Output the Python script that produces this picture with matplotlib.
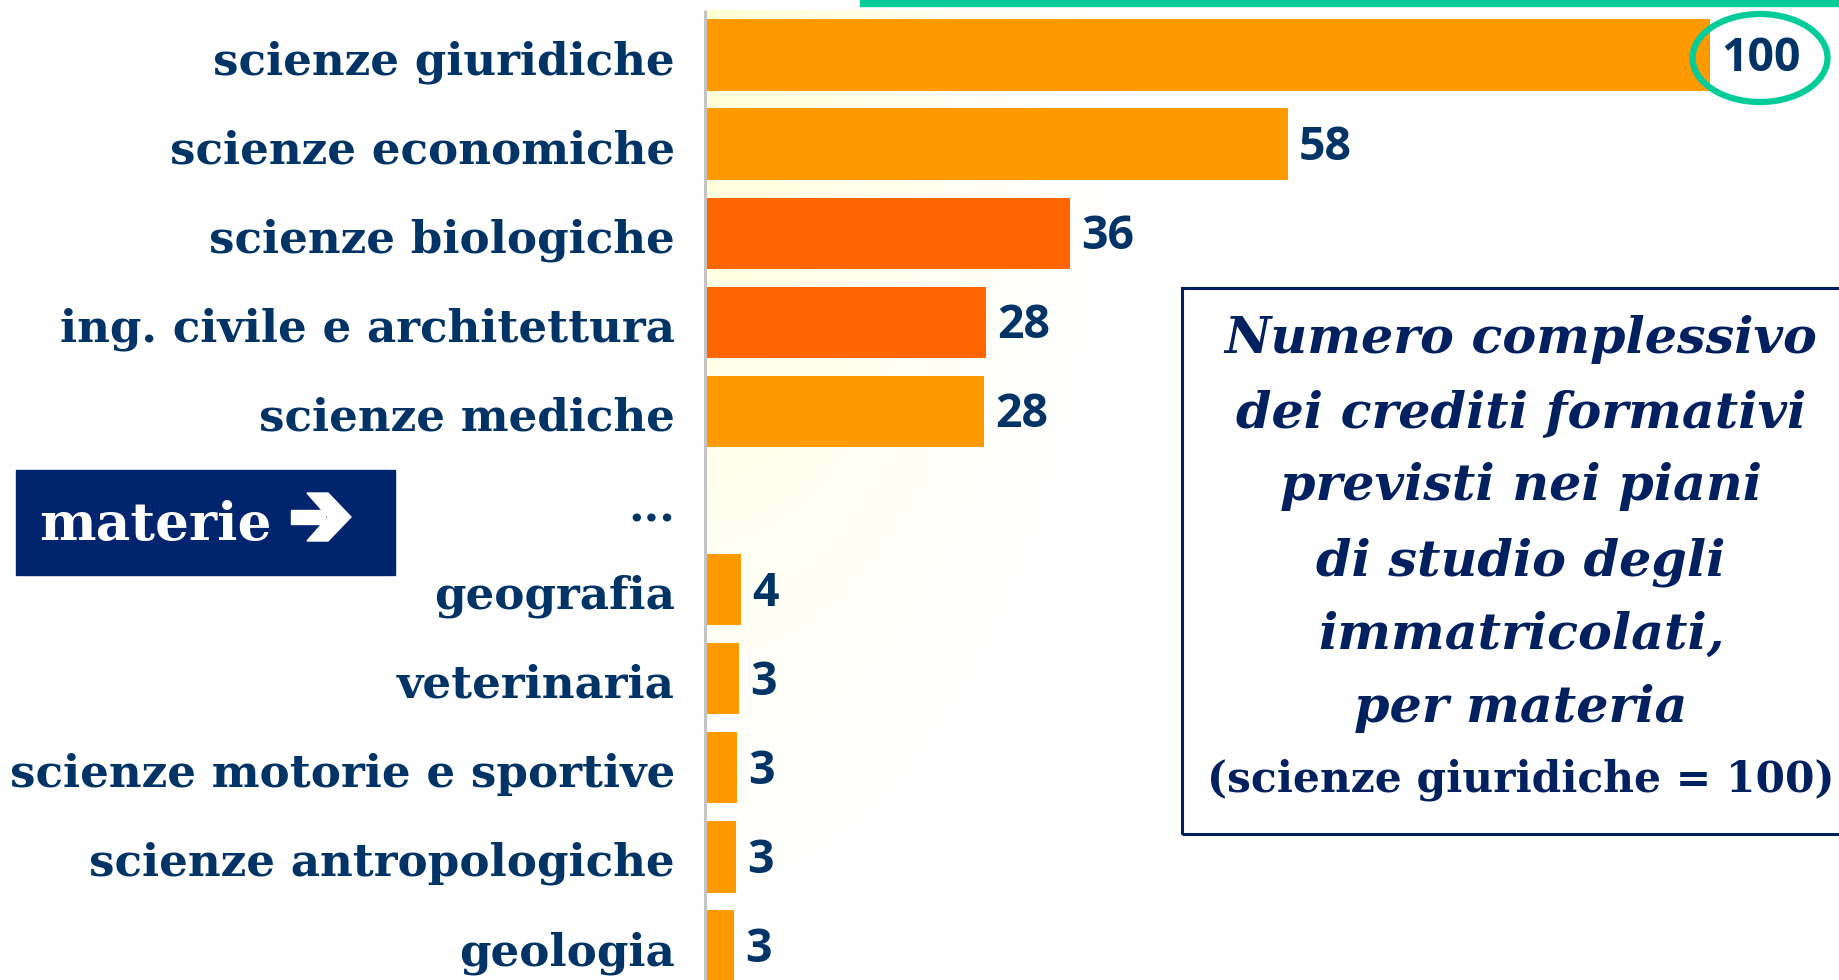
import matplotlib
matplotlib.use("Agg")
import matplotlib.pyplot as plt
import numpy as np
from matplotlib.patches import Rectangle, Ellipse, Polygon

# ---------------- data ----------------
categories = ["scienze giuridiche", "scienze economiche", "scienze biologiche",
              "ing. civile e architettura", "scienze mediche",
              "geografia", "veterinaria", "scienze motorie e sportive",
              "scienze antropologiche", "geologia"]
values = [100, 58.0, 36.3, 28.0, 27.8, 3.6, 3.4, 3.2, 3.1, 2.9]
value_labels = ["100", "58", "36", "28", "28", "4", "3", "3", "3", "3"]
highlight = [False, False, True, True, False, False, False, False, False, False]
rows = [0, 1, 2, 3, 4, 6, 7, 8, 9, 10]   # row 5 is the "..." gap
gap_label = "..."
box_lines = ["Numero complessivo", "dei crediti formativi", "previsti nei piani",
             "di studio degli", "immatricolati,", "per materia"]
box_last = "(scienze giuridiche = 100)"
tag_text = "materie"

# ---------------- style ----------------
W, H, DPI = 1839, 980, 100
NAVY = "#003366"
BOXNAVY = "#002060"
ORANGE = "#FF9900"
DARKORANGE = "#FF6600"
GREEN = "#00CC99"

fig = plt.figure(figsize=(W / DPI, H / DPI), dpi=DPI)
fig.patch.set_facecolor("white")

def fx(x):
    return x / W

def fy(y):
    return 1 - y / H

renderer = fig.canvas.get_renderer()

def fit_size(text, target_px, **kw):
    t = fig.text(0, 0, text, fontsize=20, **kw)
    w = t.get_window_extent(renderer).width
    t.remove()
    return 20 * target_px / w

AX_X = 705          # pixel of x=0
PX_PER_UNIT = 10.05
ROW0 = 55           # pixel centre of row 0
ROW_STEP = 89.1

ax = fig.add_axes([fx(AX_X), 0, 1 - fx(AX_X), 1])
ax.set_xlim(0, (W - AX_X) / PX_PER_UNIT)
ax.set_ylim((H - ROW0) / ROW_STEP, -ROW0 / ROW_STEP)
ax.axis("off")

def px2dx(p):
    return p / PX_PER_UNIT

def px2dy(p):
    return p / ROW_STEP

# soft yellow gradient near the axis
gx, gy = np.meshgrid(np.linspace(0, 450, 200), np.linspace(0, 980, 300))
alpha = 0.85 * np.clip(1 - np.sqrt((gx / 420) ** 2 + (gy / 900) ** 2), 0, 1) ** 1.3
img = np.zeros(gx.shape + (4,))
img[..., 0] = 1.0
img[..., 1] = 1.0
img[..., 2] = 0.80
img[..., 3] = alpha
ax.imshow(img, extent=[0, px2dx(450), (H - ROW0) / ROW_STEP, px2dy(10 - ROW0)],
          aspect="auto", zorder=0, interpolation="bilinear")

# bars
colors = [DARKORANGE if h else ORANGE for h in highlight]
ax.barh(rows, values, height=0.80, color=colors, zorder=2, linewidth=0)

# axis line
ax.plot([0, 0], [px2dy(10 - ROW0), (H - ROW0) / ROW_STEP], color="#c4c4c4",
        lw=2.2, zorder=3, clip_on=False, solid_capstyle="butt")

# category labels
cat_size = fit_size("scienze motorie e sportive", 666, family="DejaVu Serif",
                    fontweight="bold")
for r, c in zip(rows, categories):
    ax.text(-px2dx(30), r + px2dy(19), c, ha="right", va="baseline",
            fontsize=cat_size, family="DejaVu Serif", fontweight="bold",
            color=NAVY, zorder=4)
ax.text(-px2dx(30), 5 + px2dy(21), gap_label, ha="right", va="baseline",
        fontsize=cat_size, family="DejaVu Serif", fontweight="bold",
        color=NAVY, zorder=4)

# value labels
val_size = fit_size("58", 53, family="Open Sans", fontweight="bold")
for r, v, lab in zip(rows, values, value_labels):
    ax.text(v + px2dx(11), r + px2dy(16), lab, ha="left", va="baseline",
            fontsize=val_size, family="Open Sans", fontweight="bold",
            color=NAVY, zorder=5)

# green top line and ellipse
fig.patches.append(Rectangle((fx(860), fy(6)), fx(W) - fx(860), 6 / H,
                             transform=fig.transFigure, color=GREEN, zorder=6))
fig.patches.append(Ellipse((fx(1760), fy(58)), 135 / W, 88 / H,
                           transform=fig.transFigure, fill=False,
                           edgecolor=GREEN, lw=4.5, zorder=6))

# "materie" tag
fig.patches.append(Rectangle((fx(16), fy(575)), (395 - 16) / W, (575 - 470) / H,
                             transform=fig.transFigure, color="#00246E", zorder=6))
tag_size = fit_size(tag_text, 233, family="DejaVu Serif", fontweight="bold")
fig.text(fx(39), fy(540), tag_text, ha="left", va="baseline", fontsize=tag_size,
         family="DejaVu Serif", fontweight="bold", color="white", zorder=7)
fig.patches.append(Rectangle((fx(291), fy(524)), 34 / W, 14 / H,
                             transform=fig.transFigure, color="white", zorder=7))
chev = [(307, 493), (328, 493), (351, 517), (328, 541), (307, 541), (328, 517)]
fig.patches.append(Polygon([(fx(a), fy(b)) for a, b in chev], closed=True,
                           transform=fig.transFigure, color="white", zorder=7))

# description box
fig.patches.append(Rectangle((fx(1182), fy(834)), (W + 10 - 1182) / W, (834 - 288) / H,
                             transform=fig.transFigure, fill=False,
                             edgecolor=BOXNAVY, lw=2.2, zorder=6, clip_on=False))
box_size = fit_size(box_lines[0], 592, family="DejaVu Serif", fontweight="bold",
                    style="italic")
baselines = [353, 427, 500, 575, 649, 722]
for b, line in zip(baselines, box_lines):
    fig.text(fx(1521), fy(b), line, ha="center", va="baseline", fontsize=box_size,
             family="DejaVu Serif", fontweight="bold", style="italic",
             color=BOXNAVY, zorder=7)
last_size = fit_size(box_last, 627, family="DejaVu Serif", fontweight="bold")
fig.text(fx(1521), fy(791), box_last, ha="center", va="baseline", fontsize=last_size,
         family="DejaVu Serif", fontweight="bold", color=BOXNAVY, zorder=7)

fig.savefig("out.png", dpi=DPI, facecolor="white")
